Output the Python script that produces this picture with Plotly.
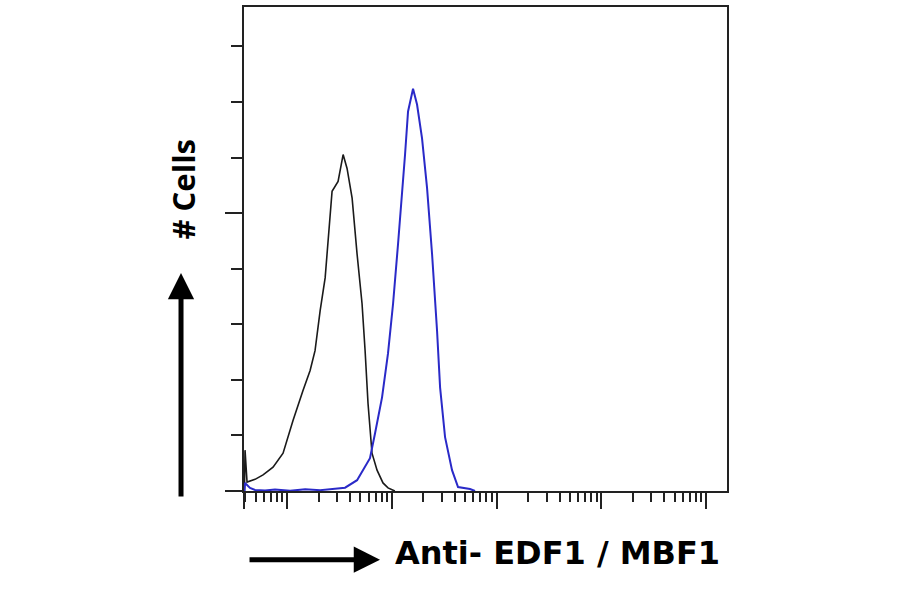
import plotly.graph_objects as go

# Fluorescence intensity (log scale) and cell counts
control_intensity = [3.92, 3.97, 4.15, 4.95, 5.90, 7.35, 9.16, 11.4, 14.2, 16.6, 18.5, 20.7,
                     23.1, 24.6, 26.9, 30.7, 34.3, 37.4, 41.8, 46.6, 52.0, 55.6, 59.3,
                     64.7, 72.3, 82.4, 92.0, 107.0]
control_counts = [0.0, 14.7, 3.2, 4.2, 5.8, 8.6, 13.6, 25.4, 36.2, 43.4, 50.5, 64.9,
                  76.7, 91.0, 107.9, 111.4, 121.1, 116.1, 105.4, 85.3, 67.4, 50.5, 31.5,
                  13.6, 7.5, 2.9, 1.1, 0.0]

stained_intensity = [3.92, 3.97, 4.43, 4.95, 6.17, 7.67, 10.7, 14.9, 20.7, 28.7, 35.8,
                     46.6, 61.9, 69.2, 80.7, 92.0, 102.8, 114.7, 125.4, 133.8, 142.9,
                     159.5, 174.2, 194.4, 217.1, 242.3, 270.4, 289.0, 322.4, 375.8,
                     428.8, 558.1, 623.4]
stained_counts = [0.0, 2.9, 1.1, 0.4, 0.2, 0.5, 0.1, 0.6, 0.3, 0.9, 1.2,
                  3.9, 11.8, 20.8, 33.7, 49.5, 67.4, 88.9, 106.8, 121.1, 136.6,
                  144.8, 139.1, 126.9, 109.0, 85.3, 57.7, 37.3, 19.4, 7.5,
                  1.4, 0.7, 0.0]

x_major_ticks = [3.89, 10, 100, 1000, 10000, 100000]
x_minor_ticks = [m * 10 ** d for d in range(0, 5) for m in range(2, 10) if m * 10 ** d > 3.95]
y_major_ticks = [0, 100]
y_minor_ticks = [20, 40, 60, 80, 120, 140, 160]

fig = go.Figure()
fig.add_trace(go.Scatter(x=control_intensity, y=control_counts, mode="lines",
                         line=dict(color="#1a1a1a", width=1.6), showlegend=False))
fig.add_trace(go.Scatter(x=stained_intensity, y=stained_counts, mode="lines",
                         line=dict(color="#2a2ac8", width=2), showlegend=False))

fig.update_xaxes(type="log", range=[0.589, 5.2], showgrid=False, zeroline=False,
                 showline=True, linecolor="#222", linewidth=2, mirror=True,
                 tickmode="array", tickvals=x_major_ticks, showticklabels=False,
                 ticks="outside", ticklen=16, tickwidth=2, tickcolor="#222",
                 minor=dict(tickmode="array", tickvals=x_minor_ticks, ticks="outside",
                            ticklen=9, tickwidth=2, tickcolor="#222", showgrid=False))
fig.update_yaxes(range=[0, 174.2], showgrid=False, zeroline=False,
                 showline=True, linecolor="#222", linewidth=2, mirror=True,
                 tickmode="array", tickvals=y_major_ticks, showticklabels=False,
                 ticks="outside", ticklen=17, tickwidth=2, tickcolor="#222",
                 minor=dict(tickmode="array", tickvals=y_minor_ticks, ticks="outside",
                            ticklen=11, tickwidth=2, tickcolor="#222", showgrid=False))

fig.add_annotation(xref="paper", yref="paper", x=-0.1304, y=0.4506, ax=0, ay=225,
                   showarrow=True, arrowhead=2, arrowsize=1.05, arrowwidth=5,
                   arrowcolor="black", text="")
fig.add_annotation(xref="paper", yref="paper", x=0.2816, y=-0.142, ax=-132, ay=0,
                   showarrow=True, arrowhead=2, arrowsize=1.05, arrowwidth=5,
                   arrowcolor="black", text="")
fig.add_annotation(xref="paper", yref="paper", x=-0.1263, y=0.623, text="# Cells",
                   textangle=-90, showarrow=False, xanchor="center", yanchor="middle",
                   font=dict(family="Open Sans", size=31, color="black", weight="bold"))
fig.add_annotation(xref="paper", yref="paper", x=0.3085, y=-0.128, text="Anti- EDF1 / MBF1",
                   showarrow=False, xanchor="left", yanchor="middle",
                   font=dict(family="DejaVu Sans", size=32, color="black", weight="bold"))

fig.update_layout(width=900, height=594, margin=dict(l=244, r=173, t=5, b=103),
                  paper_bgcolor="white", plot_bgcolor="white")
fig.write_html("out.html", config={"displayModeBar": False},
               post_script="document.body.style.margin='0';")
